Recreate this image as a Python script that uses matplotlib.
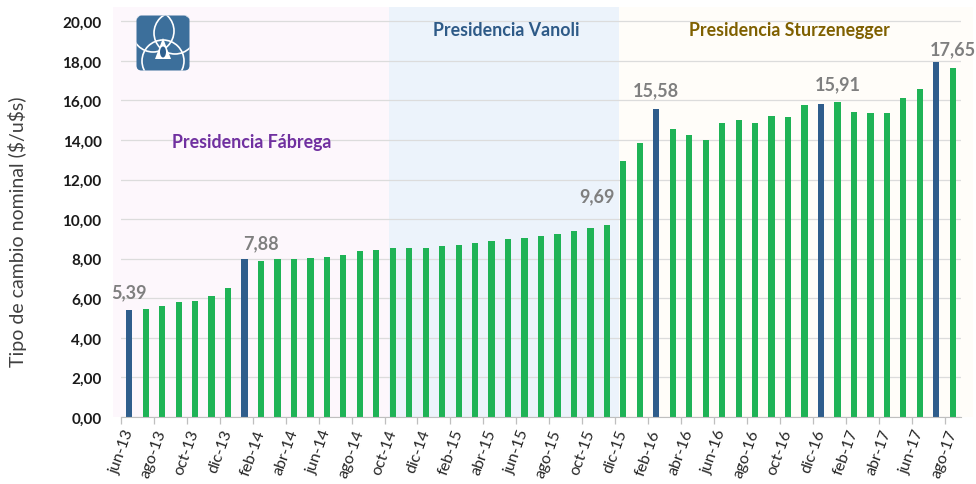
import matplotlib
matplotlib.use('Agg')
import matplotlib.pyplot as plt
from matplotlib.patches import FancyBboxPatch, Circle, Ellipse, Polygon
from matplotlib.ticker import FixedLocator

# ---- data ----
months = ['jun-13', 'jul-13', 'ago-13', 'sep-13', 'oct-13', 'nov-13', 'dic-13',
          'ene-14', 'feb-14', 'mar-14', 'abr-14', 'may-14', 'jun-14', 'jul-14',
          'ago-14', 'sep-14', 'oct-14', 'nov-14', 'dic-14',
          'ene-15', 'feb-15', 'mar-15', 'abr-15', 'may-15', 'jun-15', 'jul-15',
          'ago-15', 'sep-15', 'oct-15', 'nov-15', 'dic-15',
          'ene-16', 'feb-16', 'mar-16', 'abr-16', 'may-16', 'jun-16', 'jul-16',
          'ago-16', 'sep-16', 'oct-16', 'nov-16', 'dic-16',
          'ene-17', 'feb-17', 'mar-17', 'abr-17', 'may-17', 'jun-17', 'jul-17',
          'ago-17']
values = [5.39, 5.45, 5.62, 5.79, 5.87, 6.13, 6.50,
          7.98, 7.88, 7.98, 7.98, 8.06, 8.10, 8.18,
          8.40, 8.45, 8.52, 8.52, 8.55,
          8.62, 8.70, 8.80, 8.90, 8.99, 9.06, 9.16,
          9.24, 9.41, 9.53, 9.69, 12.94,
          13.87, 15.58, 14.55, 14.24, 13.99, 14.88, 15.02,
          14.88, 15.22, 15.14, 15.76, 15.84,
          15.91, 15.42, 15.34, 15.37, 16.10, 16.57, 17.94,
          17.65]
highlight_months = ['jun-13', 'ene-14', 'feb-16', 'dic-16', 'jul-17']
label_months = ['jun-13', 'feb-14', 'nov-15', 'feb-16', 'ene-17', 'ago-17']
label_texts = ['5,39', '7,88', '9,69', '15,58', '15,91', '17,65']
periods = ['Presidencia Fábrega', 'Presidencia Vanoli', 'Presidencia Sturzenegger']
period_start = ['jun-13', 'oct-14', 'dic-15']
period_end = ['sep-14', 'nov-15', 'ago-17']
yticks = [0, 2, 4, 6, 8, 10, 12, 14, 16, 18, 20]
ylabel = r'Tipo de cambio nominal (\$/u\$s)'

# ---- style ----
plt.rcParams['font.family'] = ['Lato', 'DejaVu Sans']
GREEN = '#1fb356'
BLUE = '#2f5d8c'
period_bg = ['#fdf7fc', '#ecf3fb', '#fffdf9']
period_fg = ['#7030a0', '#2e5a87', '#7f6000']

fig = plt.figure(figsize=(9.76, 4.85), dpi=100)
W, H = 976, 485
ax = fig.add_axes([121 / W, 1 - 418 / H, (961 - 121) / W, (418 - 8) / H])

x = list(range(len(months)))
colors = [BLUE if m in highlight_months else GREEN for m in months]
ax.bar(x, values, width=0.38, color=colors, zorder=3)

ax.set_xlim(-0.5, len(months) - 0.5)
ax.set_ylim(0, 20.72)

# background period shading
for i, (s, e) in enumerate(zip(period_start, period_end)):
    x0 = months.index(s) - 0.25
    x1 = months.index(e) + 0.75
    if i == 0:
        x0 = -1.0
    if i == len(periods) - 1:
        x1 = len(months) + 0.2
    ax.axvspan(x0, x1, color=period_bg[i], zorder=0, lw=0, clip_on=False)

# period titles
title_pos = [(7.45, 13.9), (22.9, 19.6), (40.1, 19.6)]
for i, name in enumerate(periods):
    ax.text(title_pos[i][0], title_pos[i][1], name, color=period_fg[i],
            fontsize=12.8, fontweight='bold', ha='center', va='center', zorder=5)

# value labels
offsets = {'nov-15': (-7, 21)}
for m, t in zip(label_months, label_texts):
    i = months.index(m)
    dx, dy = offsets.get(m, (0, 13.5))
    ax.annotate(t, (i, values[i]), xytext=(dx, dy), textcoords='offset points',
                ha='center', va='center', fontsize=13, fontweight='bold',
                color='#7f7f7f', zorder=5)

# axes styling
ax.set_yticks(yticks)
ax.set_yticklabels([f'{v:.2f}'.replace('.', ',') for v in yticks],
                   fontweight='bold', fontsize=11, color='#1a1a1a')
ax.tick_params(axis='y', length=0, pad=14)
ax.yaxis.grid(True, color='#dcdcdc', lw=0.9)
ax.set_axisbelow(True)
for sp in ['left', 'right', 'top']:
    ax.spines[sp].set_visible(False)
ax.spines['bottom'].set_color('#bfbfbf')
ax.spines['bottom'].set_zorder(4)

ax.set_xticks(x[::2])
ax.set_xticklabels(months[::2], rotation=70, ha='right', va='center',
                   rotation_mode='anchor', fontsize=11.5, color='#262626')
ax.tick_params(axis='x', which='major', length=0, pad=9)
ax.xaxis.set_minor_locator(FixedLocator([i - 0.5 for i in x[::2]]))
ax.tick_params(axis='x', which='minor', length=5, color='#bfbfbf', width=0.9)

ax.set_ylabel(ylabel, fontsize=14, color='#404040')
ax.yaxis.set_label_coords(-0.112, 0.455)

# logo (approximation)
lax = fig.add_axes([136 / W, 1 - 72 / H, 54 / W, 56 / H])
lax.set_xlim(0, 54)
lax.set_ylim(0, 56)
lax.axis('off')
box = FancyBboxPatch((0.5, 0.5), 53, 55, boxstyle='round,pad=0,rounding_size=5',
                     fc='#3c6f9b', ec='none')
lax.add_patch(box)
for cx, cy in [(17, 40), (39, 38), (27, 10)]:
    c = Circle((cx, cy), 21, fc='none', ec='white', lw=1.2)
    lax.add_patch(c)
    c.set_clip_path(box)
lax.add_patch(Polygon([[27, 33], [19, 12], [35, 12]], closed=True, fc='white', ec='none'))
lax.add_patch(Ellipse((27, 19), 6, 11, fc='#2d5f8f', ec='none'))

fig.savefig('out.png', dpi=100)
